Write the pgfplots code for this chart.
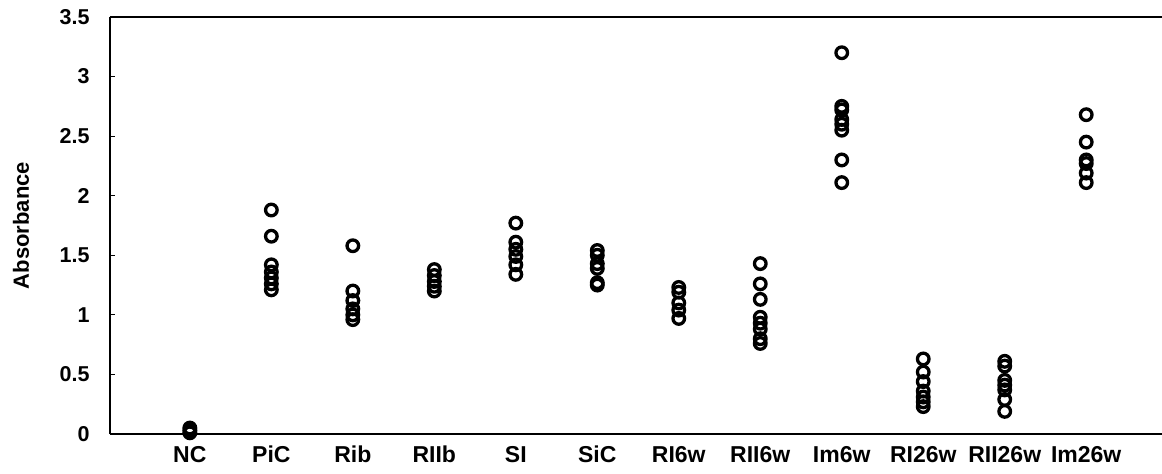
\documentclass[border=0pt]{standalone}
\usepackage{fontspec}
\setmainfont{Liberation Sans}
\usepackage{pgfplots}
\pgfplotsset{compat=1.18}
\begin{document}
\begin{tikzpicture}
\begin{axis}[
  scale only axis,
  width=1052bp, height=417bp,
  xmin=-0.98, xmax=11.93,
  ymin=0, ymax=3.5,
  axis lines*=left,
  axis line style={line width=1.5bp},
  xtick={0,1,2,3,4,5,6,7,8,9,10,11},
  xticklabels={NC,PiC,Rib,RIIb,SI,SiC,RI6w,RII6w,Im6w,RI26w,RII26w,Im26w},
  x tick style={draw=none},
  ytick={0,0.5,1,1.5,2,2.5,3,3.5},
  yticklabels={0,0.5,1,1.5,2,2.5,3,3.5},
  y tick style={line width=1.2bp, black},
  tick align=inside,
  major tick length=5bp,
  /pgf/number format/assume math mode=true,
  yticklabel style={font=\fontsize{21.5bp}{24bp}\selectfont\bfseries, xshift=-17bp},
  xticklabel style={font=\fontsize{23bp}{26bp}\selectfont\bfseries, text height=0.72em, text depth=0pt, yshift=-18bp},
  ylabel={Absorbance},
  ylabel style={font=\fontsize{22bp}{25bp}\selectfont\bfseries, at={(axis description cs:-0.0846,0.5)}, anchor=center},
  clip=false,
]
\addplot[only marks, mark=o, mark size=5.8bp, line width=3.3bp, black] table {
x y
0 0.01
0 0.03
0 0.05
1 1.88
1 1.66
1 1.42
1 1.36
1 1.31
1 1.26
1 1.21
2 1.58
2 1.20
2 1.12
2 1.05
2 1.00
2 0.96
3 1.38
3 1.33
3 1.28
3 1.24
3 1.20
4 1.77
4 1.61
4 1.55
4 1.49
4 1.42
4 1.34
5 1.54
5 1.50
5 1.43
5 1.39
5 1.27
5 1.25
6 1.23
6 1.19
6 1.10
6 1.04
6 0.97
7 1.43
7 1.26
7 1.13
7 0.98
7 0.93
7 0.88
7 0.80
7 0.76
8 3.20
8 2.75
8 2.72
8 2.64
8 2.60
8 2.55
8 2.30
8 2.11
9 0.63
9 0.52
9 0.44
9 0.36
9 0.31
9 0.27
9 0.23
10 0.61
10 0.57
10 0.45
10 0.41
10 0.37
10 0.29
10 0.19
11 2.68
11 2.45
11 2.30
11 2.27
11 2.19
11 2.11
};
\draw[line width=1.5bp] (rel axis cs:0,1) -- (rel axis cs:1,1);
\end{axis}
\pgfresetboundingbox
\path (current axis.south west) ++(-110bp,-40bp) coordinate (a);
\useasboundingbox (a) rectangle ++(1162bp,474bp);
\end{tikzpicture}
\end{document}
